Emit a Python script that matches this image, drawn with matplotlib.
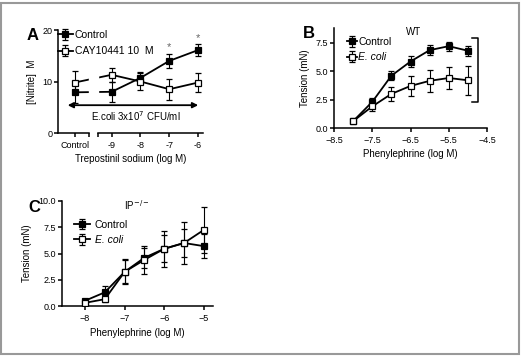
import matplotlib
matplotlib.use('Agg')
import matplotlib.pyplot as plt
from matplotlib.patches import Rectangle
import numpy as np

plt.rcParams['font.family'] = ['Liberation Sans', 'DejaVu Sans']
plt.rcParams['font.size'] = 7
plt.rcParams['axes.linewidth'] = 1.1
plt.rcParams['xtick.major.width'] = 1.1
plt.rcParams['ytick.major.width'] = 1.1
plt.rcParams['xtick.major.size'] = 3
plt.rcParams['ytick.major.size'] = 3
plt.rcParams['ytick.major.pad'] = 1.2
plt.rcParams['xtick.major.pad'] = 2.5
plt.rcParams['xtick.labelsize'] = 6.5
plt.rcParams['ytick.labelsize'] = 6.5

# panel A - nitrite vs trepostinil
a_labels = ['Control', '-9', '-8', '-7', '-6']
a_dose = [-9, -8, -7, -6]
a_ctrl = [7.9, 8.0, 10.7, 14.0, 16.1]
a_ctrl_err = [2.0, 2.0, 1.2, 1.3, 1.2]
a_cay = [9.8, 11.3, 10.0, 8.5, 9.8]
a_cay_err = [2.3, 1.4, 1.6, 2.0, 1.9]
a_star_idx = [3, 4]
a_star_y = [16.6, 18.5]

# panel B - WT
b_dose = [-8, -7.5, -7, -6.5, -6, -5.5, -5]
b_ctrl = [0.6, 2.3, 4.6, 5.85, 6.85, 7.2, 6.8]
b_ctrl_err = [0.1, 0.3, 0.4, 0.5, 0.45, 0.4, 0.45]
b_ecoli = [0.6, 1.9, 3.0, 3.7, 4.15, 4.4, 4.2]
b_ecoli_err = [0.1, 0.4, 0.6, 0.85, 0.95, 1.0, 1.3]

# panel C - IP-/-
c_dose = [-8, -7.5, -7, -6.5, -6, -5.5, -5]
c_ctrl = [0.5, 1.3, 3.25, 4.6, 5.45, 6.0, 5.7]
c_ctrl_err = [0.1, 0.6, 1.1, 0.95, 1.3, 1.3, 1.15]
c_ecoli = [0.3, 0.65, 3.25, 4.4, 5.45, 6.0, 7.25]
c_ecoli_err = [0.1, 0.3, 1.2, 1.35, 1.7, 2.0, 2.2]

CONTROL_POS = -10.28
BREAK = (-9.78, -9.48)

fig = plt.figure(figsize=(5.21, 3.56), dpi=100)


def series(ax, x, y, err, filled, label, z):
    ax.errorbar(x, y, yerr=err, color='black', lw=1.3, elinewidth=0.8,
                capsize=2.3, capthick=0.8, marker='s', markersize=5,
                markerfacecolor='black' if filled else 'white',
                markeredgecolor='black', markeredgewidth=0.9,
                label=label, zorder=z)


def clean(ax):
    ax.spines['top'].set_visible(False)
    ax.spines['right'].set_visible(False)


# ---- A ----
axA = fig.add_axes([58/521, 1-133/356, 145/521, 103/356])
clean(axA)
axA.spines['bottom'].set_visible(False)
xA = [CONTROL_POS] + a_dose
series(axA, xA, a_ctrl, a_ctrl_err, True, 'Control', 3)
series(axA, xA, a_cay, a_cay_err, False, 'CAY10441 10  M', 4)
axA.axvspan(BREAK[0], BREAK[1], color='white', zorder=5)
xmin, xmax = -10.86, -5.83
axA.set_xlim(xmin, xmax)
axA.set_ylim(0, 20)
axA.plot([xmin, BREAK[0]], [0, 0], color='black', lw=1.1, clip_on=False, zorder=6)
axA.plot([BREAK[1], xmax], [0, 0], color='black', lw=1.1, clip_on=False, zorder=6)
axA.set_xticks([CONTROL_POS, BREAK[0], BREAK[1]] + a_dose,
               [a_labels[0], '', ''] + a_labels[1:])
axA.set_yticks([0, 10, 20])
for i, sy in zip(a_star_idx, a_star_y):
    axA.text(xA[i], sy, '*', ha='center', va='center', color='#666666', fontsize=8)
axA.annotate('', xy=(-5.9, 5.4), xytext=(-10.62, 5.4),
             arrowprops=dict(arrowstyle='<|-|>', color='black', lw=1.3,
                             mutation_scale=8), zorder=7)
axA.text(-8.15, 3.2, 'E.coli 3x10$^{7}$ CFU/ml', ha='center', va='center', fontsize=7, zorder=7)
axA.set_ylabel('[Nitrite]  M', labelpad=4)
axA.set_xlabel('Trepostinil sodium (log M)', labelpad=3)
axA.legend(loc='upper left', bbox_to_anchor=(0.0, 1.0), frameon=False,
           handlelength=1.4, handletextpad=0.2, labelspacing=0.6,
           borderaxespad=0, borderpad=0, fontsize=7.5)
fig.text(33/521, 1-36/356, 'A', fontsize=12, fontweight='bold', ha='center', va='center')

# ---- B ----
axB = fig.add_axes([334/521, 1-128/356, 153/521, 100/356])
clean(axB)
series(axB, b_dose, b_ctrl, b_ctrl_err, True, 'Control', 3)
series(axB, b_dose, b_ecoli, b_ecoli_err, False, 'E. coli', 4)
axB.set_xlim(-8.5, -4.5)
axB.set_ylim(0, 8.8)
axB.set_xticks([-8.5, -7.5, -6.5, -5.5, -4.5])
axB.set_yticks([0, 2.5, 5, 7.5], ['0.0', '2.5', '5.0', '7.5'])
axB.plot([-4.88, -4.74, -4.74, -4.88], [7.9, 7.9, 2.3, 2.3], color='black', lw=1.1, clip_on=False)
axB.text(0.52, 0.96, 'WT', transform=axB.transAxes, ha='center', va='center', fontsize=7)
axB.set_ylabel('Tension (mN)', labelpad=4)
axB.set_xlabel('Phenylephrine (log M)', labelpad=3)
legB = axB.legend(loc='upper left', bbox_to_anchor=(0.085, 0.91), frameon=False,
                  handlelength=1.0, handletextpad=0.1, labelspacing=0.5,
                  borderaxespad=0, borderpad=0, fontsize=7.5)
legB.get_texts()[1].set_style('italic')
fig.text(309/521, 1-33/356, 'B', fontsize=12, fontweight='bold', ha='center', va='center')

# ---- C ----
axC = fig.add_axes([62/521, 1-306/356, 151/521, 105/356])
clean(axC)
series(axC, c_dose, c_ctrl, c_ctrl_err, True, 'Control', 3)
series(axC, c_dose, c_ecoli, c_ecoli_err, False, 'E. coli', 4)
axC.set_xlim(-8.58, -4.77)
axC.set_ylim(0, 10)
axC.set_xticks([-8, -7, -6, -5])
axC.set_yticks([0, 2.5, 5, 7.5, 10], ['0.0', '2.5', '5.0', '7.5', '10.0'])
axC.text(-6.7, 9.6, 'IP$^{-/-}$', ha='center', va='center', fontsize=7)
axC.set_ylabel('Tension (mN)', labelpad=5)
axC.set_xlabel('Phenylephrine (log M)', labelpad=4)
legC = axC.legend(loc='upper left', bbox_to_anchor=(0.08, 0.82), frameon=False,
                  handlelength=1.5, handletextpad=0.5, labelspacing=0.5,
                  borderaxespad=0, borderpad=0, fontsize=7.5)
legC.get_texts()[1].set_style('italic')
fig.text(34/521, 1-207/356, 'C', fontsize=12, fontweight='bold', ha='center', va='center')

# grey frame
fig.patches.append(Rectangle((1/521, 1-354/356), 518/521, 351/356, transform=fig.transFigure,
                             fill=False, edgecolor='#999999', lw=1.5))

fig.savefig('out.png', dpi=100)
